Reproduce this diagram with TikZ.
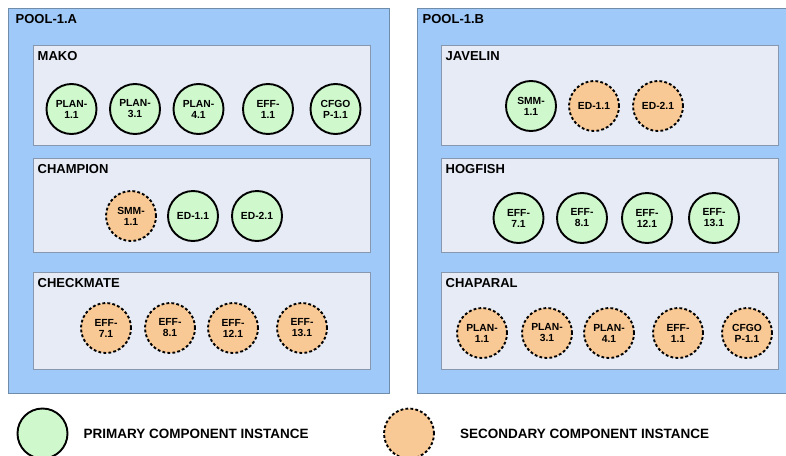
\documentclass[tikz,border=0pt]{standalone}
\usepackage{fontspec}
\setmainfont{Liberation Sans}
\usetikzlibrary{positioning}
\definecolor{poolblue}{HTML}{9FC9F8}
\definecolor{poolline}{HTML}{6F8CAA}
\definecolor{hostgray}{HTML}{E6EBF5}
\definecolor{hostline}{HTML}{8797AD}
\definecolor{primgreen}{HTML}{CFF8CC}
\definecolor{secorange}{HTML}{F9C995}

\begin{document}
\begin{tikzpicture}[x=1pt, y=-1pt,
    pool/.style={draw=poolline, fill=poolblue, line width=1pt, inner sep=0pt,
                 minimum width=381pt, minimum height=385pt},
    host/.style={draw=hostline, fill=hostgray, line width=1pt, inner sep=0pt,
                 minimum width=337pt},
    boxtitle/.style={anchor=north west, inner sep=0pt, font=\bfseries\fontsize{13}{15}\selectfont},
    prim/.style={circle, draw, line width=1.9pt, fill=primgreen, minimum size=50pt,
                 inner sep=0pt, align=center, font=\bfseries\fontsize{10.3}{11}\selectfont},
    sec/.style={prim, fill=secorange, dash pattern=on 2.8pt off 2.2pt},
    legtext/.style={inner sep=0pt, font=\bfseries\fontsize{13.5}{15}\selectfont}]

    \useasboundingbox (0,0) rectangle (786,455);
    \clip (0,0) rectangle (786,455);

    % pools
    \node[pool] (poolA) at (198.5,200.5) {};
    \node[pool] (poolB) at (607.5,200.5) {};
    \node[boxtitle] (poolAtitle) at ([shift={(8pt,-7pt)}]poolA.north west) {POOL-1.A};
    \node[boxtitle] (poolBtitle) at ([shift={(6pt,-7pt)}]poolB.north west) {POOL-1.B};

    % hosts
    \node[host, minimum height=100pt] (mako) at (201.5,95) {};
    \node[host, minimum height=94pt] (champion) at (201.5,205) {};
    \node[host, minimum height=97pt] (checkmate) at (201.5,320.5) {};
    \node[host, minimum height=100pt] (javelin) at (609.5,95) {};
    \node[host, minimum height=94pt] (hogfish) at (609.5,205) {};
    \node[host, minimum height=97pt] (chaparal) at (609.5,320.5) {};
    \foreach \h/\t in {mako/MAKO, champion/CHAMPION, checkmate/CHECKMATE,
                       javelin/JAVELIN, hogfish/HOGFISH, chaparal/CHAPARAL}
        \node[boxtitle] (\h title) at ([shift={(5pt,-7pt)}]\h.north west) {\t};

    % instances
    \foreach \x/\t [count=\i] in {71.5/PLAN-\\1.1, 135/PLAN-\\3.1, 198.5/PLAN-\\4.1,
                                  268/EFF-\\1.1, 335.5/CFGO\\P-1.1}
        \node[prim] (mako\i) at (\x,109) {\t};
    \node[sec] (champion1) at (131,216) {SMM-\\1.1};
    \node[prim] (champion2) at (193,216) {ED-1.1};
    \node[prim] (champion3) at (257,216) {ED-2.1};
    \foreach \x/\t [count=\i] in {106/EFF-\\7.1, 170/EFF-\\8.1, 233/EFF-\\12.1, 302/EFF-\\13.1}
        \node[sec] (checkmate\i) at (\x,328) {\t};

    \node[prim] (javelin1) at (531,106) {SMM-\\1.1};
    \node[sec] (javelin2) at (594,106) {ED-1.1};
    \node[sec] (javelin3) at (658,106) {ED-2.1};
    \foreach \x/\t [count=\i] in {518.5/EFF-\\7.1, 582/EFF-\\8.1, 647/EFF-\\12.1, 714/EFF-\\13.1}
        \node[prim] (hogfish\i) at (\x,218) {\t};
    \foreach \x/\t [count=\i] in {482/PLAN-\\1.1, 547/PLAN-\\3.1, 609/PLAN-\\4.1,
                                  678/EFF-\\1.1, 747/CFGO\\P-1.1}
        \node[sec] (chaparal\i) at (\x,333) {\t};

    % legend
    \node[prim] (legprim) at (42.5,433.5) {};
    \node[legtext, right=15pt of legprim] (legprimtext) {PRIMARY COMPONENT INSTANCE};
    \node[sec] (legsec) at (409,433.5) {};
    \node[legtext, right=25pt of legsec] (legsectext) {SECONDARY COMPONENT INSTANCE};
\end{tikzpicture}
\end{document}
